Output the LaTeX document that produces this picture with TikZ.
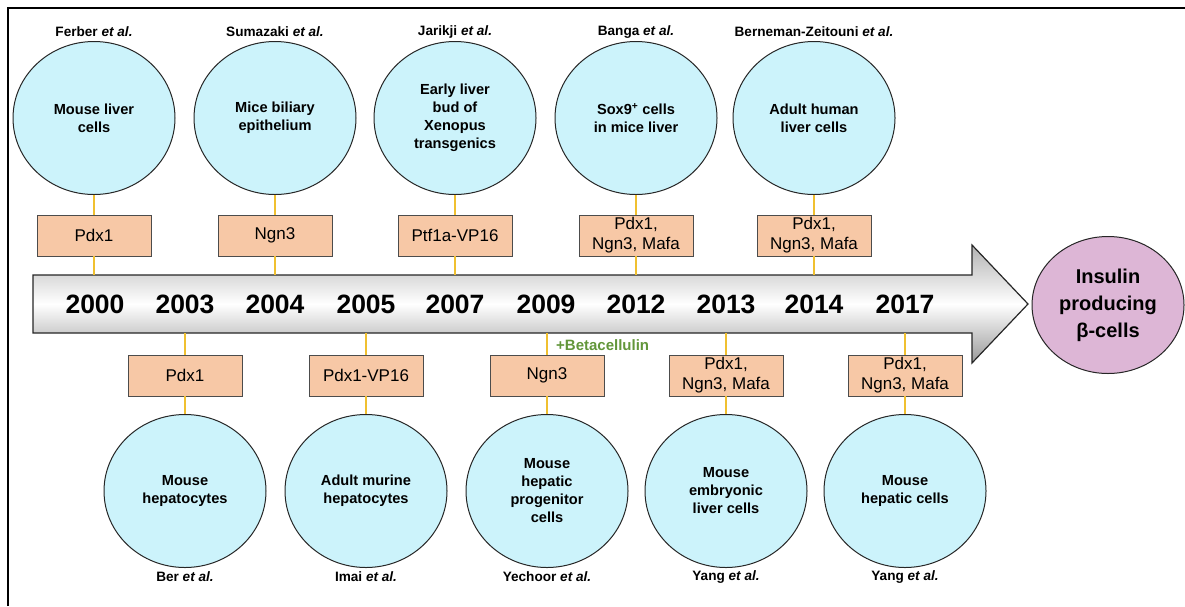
\documentclass[tikz,border=0pt]{standalone}
\usepackage{fontspec}
\setmainfont{Liberation Sans}
\usetikzlibrary{shapes.geometric}

\definecolor{cellfill}{HTML}{CCF3FB}
\definecolor{boxfill}{HTML}{F7C8A6}
\definecolor{linkcol}{HTML}{F0C030}
\definecolor{betacol}{HTML}{62963A}
\definecolor{goalfill}{HTML}{DDB6D6}

\tikzset{
  cell/.style={ellipse, draw=black!85, line width=1pt, fill=cellfill,
    minimum width=162pt, minimum height=153pt, inner sep=0pt,
    align=center, font=\fontsize{14.6}{18}\selectfont\bfseries},
  factor/.style={rectangle, draw=black!70, line width=0.9pt, fill=boxfill,
    minimum width=114pt, minimum height=41pt, inner sep=0pt,
    align=center, font=\fontsize{17}{20}\selectfont},
  author/.style={font=\fontsize{13.6}{15}\selectfont\bfseries, inner sep=0pt},
  year/.style={font=\fontsize{26.5}{28}\selectfont\bfseries, inner sep=0pt},
  link/.style={draw=linkcol, line width=1.4pt},
}
\newcommand{\etal}{\textit{et al.}}

\begin{document}
\begin{tikzpicture}[x=1pt,y=-1pt]
\useasboundingbox (0,0) rectangle (1185,606);

% frame
\draw[line width=2pt] (8,606) -- (8,8) -- (1185,8);

% timeline arrow with vertical shading
\shade[top color=black!30, bottom color=black!40, middle color=white, draw=black!85, line width=1.2pt]
  (33,275) -- (972,275) -- (972,245) -- (1028,304) -- (972,363) -- (972,333) -- (33,333) -- cycle;
\coordinate (shafttop) at (0,275);
\coordinate (shaftbot) at (0,333);

% years
\foreach \yr/\xx in {2000/95, 2003/185, 2004/275, 2005/366, 2007/455,
                     2009/546, 2012/636, 2013/726, 2014/814, 2017/905}
  \node[year] (y\yr) at (\xx,304) {\yr};

% upper studies
\node[cell] (c1) at (94,118) {Mouse liver\\cells};
\node[cell] (c2) at (275,118) {Mice biliary\\epithelium};
\node[cell] (c3) at (455,118) {Early liver\\bud of\\Xenopus\\transgenics};
\node[cell] (c4) at (636,118) {Sox9\textsuperscript{+} cells\\in mice liver};
\node[cell] (c5) at (814,118) {Adult human\\liver cells};

\node[author] (a1) at (94,32) {Ferber \etal};
\node[author] (a2) at (275,32) {Sumazaki \etal};
\node[author] (a3) at (455,32) {Jarikji \etal};
\node[author] (a4) at (636,32) {Banga \etal};
\node[author] (a5) at (814,32) {Berneman-Zeitouni \etal};

\node[factor] (f1) at (94,235.5) {Pdx1};
\node[factor] (f2) at (275,235.5) {Ngn3};
\node[factor] (f3) at (455,235.5) {Ptf1a-VP16};
\node[factor] (f4) at (636,235.5) {Pdx1,\\Ngn3, Mafa};
\node[factor] (f5) at (814,235.5) {Pdx1,\\Ngn3, Mafa};

% lower studies
\node[cell] (d1) at (185,491) {Mouse\\hepatocytes};
\node[cell] (d2) at (366,491) {Adult murine\\hepatocytes};
\node[cell] (d3) at (547,491) {Mouse\\hepatic\\progenitor\\cells};
\node[cell] (d4) at (726,491) {Mouse\\embryonic\\liver cells};
\node[cell] (d5) at (905,491) {Mouse\\hepatic cells};

\node[author] (b1) at (185,577) {Ber \etal};
\node[author] (b2) at (366,577) {Imai \etal};
\node[author] (b3) at (547,577) {Yechoor \etal};
\node[author] (b4) at (726,577) {Yang \etal};
\node[author] (b5) at (905,577) {Yang \etal};

\node[factor] (g1) at (185,375.5) {Pdx1};
\node[factor] (g2) at (366,375.5) {Pdx1-VP16};
\node[factor] (g3) at (547,375.5) {Ngn3};
\node[factor] (g4) at (726,375.5) {Pdx1,\\Ngn3, Mafa};
\node[factor] (g5) at (905,375.5) {Pdx1,\\Ngn3, Mafa};

\node[anchor=west, inner sep=0pt, text=betacol, font=\fontsize{15}{16}\selectfont\bfseries]
  (beta) at (556,345) {+Betacellulin};

% links
\foreach \i in {1,...,5}{
  \draw[link] (c\i.south) -- (f\i.north);
  \draw[link] (f\i.south) -- (f\i.south |- shafttop);
  \draw[link] (g\i.north |- shaftbot) -- (g\i.north);
  \draw[link] (g\i.south) -- (d\i.north);
}

% outcome
\node[ellipse, draw=black!85, line width=1pt, fill=goalfill,
      minimum width=152pt, minimum height=137pt, inner sep=0pt, align=center,
      font=\fontsize{20}{27}\selectfont\bfseries] (goal) at (1108,305)
  {Insulin\\producing\\β-cells};
\end{tikzpicture}
\end{document}
